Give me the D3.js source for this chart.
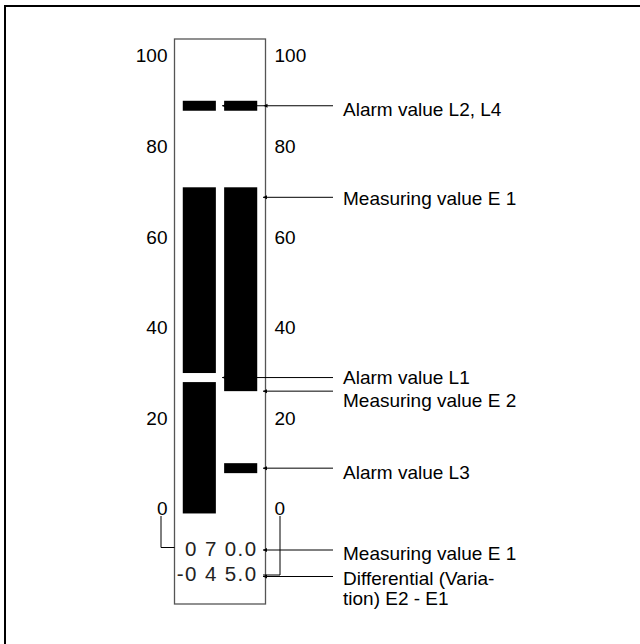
<!DOCTYPE html>
<html>
<head>
<meta charset="utf-8">
<script src="https://cdn.jsdelivr.net/npm/d3@7/dist/d3.min.js"></script>
<style>
    body { margin: 0; background: #fff; }
    text { font-family: "Liberation Sans", Arial, sans-serif; font-size: 19px; fill: #000; }
    text.readout { font-size: 20.5px; fill: #222; letter-spacing: 1.4px; }
    .box { fill: none; stroke: #555; stroke-width: 1.3; }
    .lead { stroke: #000; stroke-width: 1; fill: none; }
</style>
</head>
<body>
<div id="chart"></div>
<script>
    // scale ticks, printed on both sides of the display
    const ticks = [0, 20, 40, 60, 80, 100];

    // measuring values and alarm values (percent of range)
    const measuring = { E1: 70, E2: 25 };
    const alarms = { L1: 28, L2: 88, L3: 8, L4: 88 };
    const scaleFloor = -2;      // where the left bar starts
    const markHalf = 1.1;       // half height of an alarm mark, in units
    const gapHalf = 1;          // half height of the L1 gap in the left bar

    const columns = ["left", "right"];

    const labels = [
        "Alarm value L2, L4",
        "Measuring value E 1",
        "Alarm value L1",
        "Measuring value E 2",
        "Alarm value L3",
        "Measuring value E 1",
        ["Differential (Varia-", "tion) E2 - E1"]
    ];

    (function () {
        const width = 640, height = 644;

        const svg = d3.select("#chart").append("svg")
            .attr("width", width)
            .attr("height", height);

        // outer frame, runs off the page at right and bottom
        svg.append("rect")
            .attr("x", 5).attr("y", 6)
            .attr("width", 700).attr("height", 700)
            .attr("fill", "none")
            .attr("stroke", "#000")
            .attr("stroke-width", 2);

        const boxLeft = 174.5, boxRight = 265.5;

        const y = d3.scaleLinear().domain([0, 100]).range([504.4, 51.4]);
        const x = d3.scaleBand().domain(columns).range([boxLeft, boxRight])
            .paddingInner(0.2).paddingOuter(0.2);

        svg.append("rect")
            .attr("class", "box")
            .attr("x", boxLeft).attr("y", 39)
            .attr("width", boxRight - boxLeft).attr("height", 565);

        // tick labels
        svg.append("g").selectAll("text")
            .data(ticks)
            .join("text")
            .attr("x", 167.5)
            .attr("y", d => y(d) + 11)
            .attr("text-anchor", "end")
            .text(d => d);

        svg.append("g").selectAll("text")
            .data(ticks)
            .join("text")
            .attr("x", 274.5)
            .attr("y", d => y(d) + 11)
            .text(d => d);

        // bar segments: [column, from, to]
        const segments = [
            ["left", scaleFloor, alarms.L1 - gapHalf],
            ["left", alarms.L1 + gapHalf, measuring.E1],
            ["left", alarms.L2 - markHalf, alarms.L2 + markHalf],
            ["right", measuring.E2, measuring.E1],
            ["right", alarms.L4 - markHalf, alarms.L4 + markHalf],
            ["right", alarms.L3 - markHalf, alarms.L3 + markHalf]
        ];

        svg.append("g").selectAll("rect")
            .data(segments)
            .join("rect")
            .attr("x", d => x(d[0]))
            .attr("width", x.bandwidth())
            .attr("y", d => y(d[2]))
            .attr("height", d => y(d[1]) - y(d[2]))
            .attr("fill", "#000");

        // leader lines with small arrow heads
        const lineEnd = 333, labelX = 343;
        const inner = x("right") - 2;   // arrow tip between the columns
        const edge = boxRight - 2.5;

        const leaders = [
            { y: y(alarms.L2), x0: inner, w: 2, ty: 116, arrows: [inner, edge + 0.5] },
            { y: y(measuring.E1) + 10, x0: edge, w: 1, ty: 205, arrows: [edge] },
            { y: y(alarms.L1), x0: inner, w: 1, ty: 383.5, arrows: [inner] },
            { y: y(measuring.E2), x0: edge, w: 1, ty: 407, arrows: [edge] },
            { y: y(alarms.L3), x0: edge, w: 1, ty: 479, arrows: [edge] },
            { y: 550, x0: edge, w: 1, ty: 559.5, arrows: [edge] },
            { y: 576.5, x0: edge, w: 1, ty: 585, arrows: [edge] }
        ];

        const lg = svg.append("g");
        leaders.forEach(function (d, i) {
            lg.append("line")
                .attr("class", "lead")
                .attr("x1", d.x0).attr("x2", lineEnd)
                .attr("y1", d.y).attr("y2", d.y)
                .attr("stroke-width", d.w);
            d.arrows.forEach(function (ax) {
                lg.append("path")
                    .attr("d", "M" + ax + "," + d.y + "l4,-2l0,4z")
                    .attr("fill", "#000");
            });
            const lab = [].concat(labels[i]);
            lg.append("text")
                .attr("x", labelX)
                .attr("y", d.ty)
                .selectAll("tspan")
                .data(lab)
                .join("tspan")
                .attr("x", labelX)
                .attr("dy", (t, j) => j ? 19.5 : 0)
                .text(t => t);
        });

        // digital readout: E1 and differential E2 - E1, digits set apart
        function spaced(v) {
            const s = d3.format("05.1f")(Math.abs(v));
            return (v < 0 ? "-" : "") + s[0] + " " + s[1] + " " + s.slice(2);
        }
        const readouts = [measuring.E1, measuring.E2 - measuring.E1];

        svg.append("g").selectAll("text")
            .data(readouts)
            .join("text")
            .attr("class", "readout")
            .attr("x", 257.5)
            .attr("y", (d, i) => i ? 580.5 : 555.5)
            .attr("text-anchor", "end")
            .text(spaced);

        // connectors from the 0 labels to the readout rows
        svg.append("path")
            .attr("class", "lead")
            .attr("d", "M161,516V547.5H" + boxLeft);
        svg.append("path")
            .attr("class", "lead")
            .attr("d", "M280,516V575H" + edge);
    })();
</script>
</body>
</html>
